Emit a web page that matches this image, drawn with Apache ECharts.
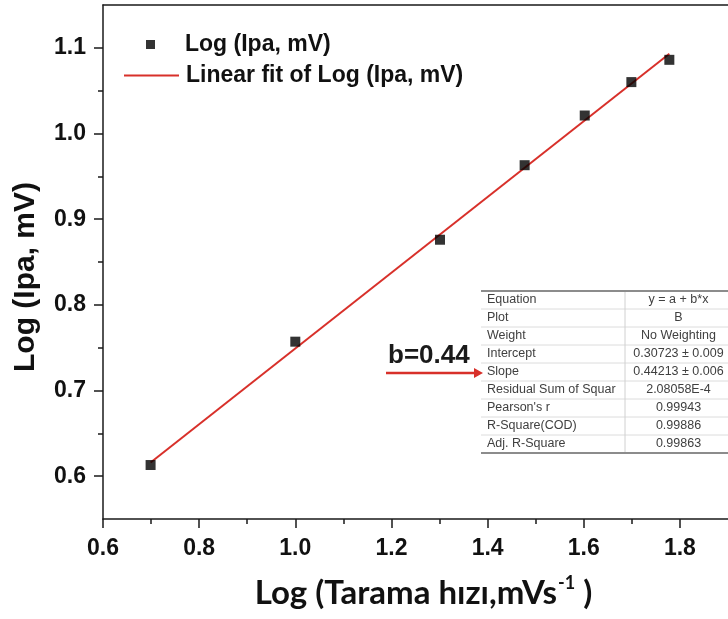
<!DOCTYPE html>
<html>
<head>
<meta charset="utf-8">
<script src="https://cdn.jsdelivr.net/npm/echarts@6/dist/echarts.min.js"></script>
<style>html,body{margin:0;padding:0;background:#fff;}#c{width:728px;height:619px;}</style>
</head>
<body>
<div id="c"></div>
<script>
// ---- data ----
const xValues = [0.699, 1.000, 1.301, 1.477, 1.602, 1.699, 1.778];
const yValues = [0.613, 0.757, 0.876, 0.963, 1.021, 1.060, 1.086];
const fitX = [0.699, 1.778];
const fitY = [0.616, 1.093];
const xMajorTicks = [0.6, 0.8, 1.0, 1.2, 1.4, 1.6, 1.8];
const xMinorTicks = [0.7, 0.9, 1.1, 1.3, 1.5, 1.7];
const yMajorTicks = [0.6, 0.7, 0.8, 0.9, 1.0, 1.1];
const yMinorTicks = [0.65, 0.75, 0.85, 0.95, 1.05];
const scatterName = 'Log (Ipa, mV)';
const fitName = 'Linear fit of Log (Ipa, mV)';
const tableLabels = ['Equation', 'Plot', 'Weight', 'Intercept', 'Slope', 'Residual Sum of Squar', "Pearson's r", 'R-Square(COD)', 'Adj. R-Square'];
const tableValues = ['y = a + b*x', 'B', 'No Weighting', '0.30723 \u00b1 0.009', '0.44213 \u00b1 0.006', '2.08058E-4', '0.99943', '0.99886', '0.99863'];
const annotationText = 'b=0.44';

// ---- chart ----
const FONT = '"Liberation Sans", Arial, sans-serif';
const AX = '#1a1a1a';
const RED = '#d8302a';
const chart = echarts.init(document.getElementById('c'), null, {renderer: 'canvas'});

const valAxisBase = {
  type: 'value',
  splitLine: {show: false}
};

// table graphic
const tLeft = 481, tRight = 728, tTop = 291, tBottom = 453, tDiv = 625;
const rowH = (tBottom - tTop) / tableLabels.length;
const tableChildren = [];
tableChildren.push({type: 'rect', shape: {x: tLeft, y: tTop, width: tRight - tLeft, height: tBottom - tTop}, style: {fill: '#fff'}});
for (let i = 1; i < tableLabels.length; i++) {
  tableChildren.push({type: 'line', shape: {x1: tLeft, y1: tTop + rowH * i, x2: tRight, y2: tTop + rowH * i}, style: {stroke: '#dcdcdc', lineWidth: 1}});
}
tableChildren.push({type: 'line', shape: {x1: tDiv, y1: tTop, x2: tDiv, y2: tBottom}, style: {stroke: '#d0d0d0', lineWidth: 1}});
tableChildren.push({type: 'line', shape: {x1: tLeft, y1: tTop, x2: tRight, y2: tTop}, style: {stroke: '#8c8c8c', lineWidth: 2}});
tableChildren.push({type: 'line', shape: {x1: tLeft, y1: tBottom, x2: tRight, y2: tBottom}, style: {stroke: '#8c8c8c', lineWidth: 2}});
tableLabels.forEach((lab, i) => {
  const cy = tTop + rowH * (i + 0.5);
  tableChildren.push({type: 'text', x: tLeft + 6, y: cy, style: {text: lab, fill: '#404040', font: '12.5px ' + FONT, textAlign: 'left', textVerticalAlign: 'middle'}});
  tableChildren.push({type: 'text', x: (tDiv + tRight) / 2 + 2, y: cy, style: {text: tableValues[i], fill: '#404040', font: '12.5px ' + FONT, textAlign: 'center', textVerticalAlign: 'middle'}});
});

const option = {
  animation: false,
  backgroundColor: '#fff',
  grid: {left: 103, right: -3, top: 5, bottom: 100, containLabel: false},
  legend: [
    {
      data: [scatterName], left: 146, top: 33, orient: 'vertical', padding: 0,
      itemWidth: 9, itemHeight: 9, icon: 'rect',
      textStyle: {fontFamily: FONT, fontSize: 23, fontWeight: 'bold', color: '#111', padding: [0, 0, 0, 25]}
    },
    {
      data: [fitName], left: 123, top: 64, orient: 'vertical', padding: 0,
      itemWidth: 55, itemHeight: 12,
      itemStyle: {opacity: 0},
      textStyle: {fontFamily: FONT, fontSize: 23, fontWeight: 'bold', color: '#111', padding: [0, 0, 0, 2]}
    }
  ],
  xAxis: [
    Object.assign({}, valAxisBase, {
      min: 0.6, max: 1.9, position: 'bottom',
      axisLine: {show: true, onZero: false, lineStyle: {color: AX, width: 1.5}},
      axisTick: {show: true, customValues: xMajorTicks, length: 9, inside: false, lineStyle: {color: AX, width: 1.5}},
      axisLabel: {customValues: xMajorTicks, formatter: v => v.toFixed(1), fontFamily: FONT, fontSize: 23, fontWeight: 'bold', color: '#111', margin: 18},
      name: '{a|Log (Tarama h\u0131z\u0131,mVs}{s|-1}{a| )}',
      nameLocation: 'middle', nameGap: 55,
      nameTextStyle: {
        rich: {
          a: {fontFamily: 'Lato, "Open Sans", sans-serif', fontSize: 33, fontWeight: 'bold', color: '#111', lineHeight: 36, verticalAlign: 'bottom'},
          s: {fontFamily: 'Lato, "Open Sans", sans-serif', fontSize: 18, fontWeight: 'bold', color: '#111', lineHeight: 36, verticalAlign: 'top', padding: [0, 0, 0, 1]}
        },
        padding: [0, 0, 0, 16]
      }
    }),
    Object.assign({}, valAxisBase, {
      min: 0.6, max: 1.9, position: 'bottom',
      axisLine: {show: false, onZero: false},
      axisTick: {show: true, customValues: xMinorTicks, length: 5, inside: false, lineStyle: {color: AX, width: 1.5}},
      axisLabel: {show: false}
    }),
    Object.assign({}, valAxisBase, {
      min: 0.6, max: 1.9, position: 'top',
      axisLine: {show: true, onZero: false, lineStyle: {color: AX, width: 1.5}},
      axisTick: {show: false},
      axisLabel: {show: false}
    })
  ],
  yAxis: [
    Object.assign({}, valAxisBase, {
      min: 0.55, max: 1.15, position: 'left',
      axisLine: {show: true, onZero: false, lineStyle: {color: AX, width: 1.5}},
      axisTick: {show: true, customValues: yMajorTicks, length: 9, inside: false, lineStyle: {color: AX, width: 1.5}},
      axisLabel: {customValues: yMajorTicks, formatter: v => v.toFixed(1), fontFamily: FONT, fontSize: 23, fontWeight: 'bold', color: '#111', margin: 17},
      name: 'Log (Ipa, mV)', nameLocation: 'middle', nameGap: 62,
      nameTextStyle: {fontFamily: FONT, fontSize: 30, fontWeight: 'bold', color: '#111', padding: [0, 30, 0, 0]}
    }),
    Object.assign({}, valAxisBase, {
      min: 0.55, max: 1.15, position: 'left', offset: 0,
      axisLine: {show: false, onZero: false},
      axisTick: {show: true, customValues: yMinorTicks, length: 5, inside: false, lineStyle: {color: AX, width: 1.5}},
      axisLabel: {show: false}
    })
  ],
  series: [
    {
      type: 'line', name: fitName, xAxisIndex: 0, yAxisIndex: 0,
      data: fitX.map((x, i) => [x, fitY[i]]),
      symbol: 'none', lineStyle: {color: RED, width: 2}, itemStyle: {color: RED}, z: 2
    },
    {
      type: 'scatter', name: scatterName, xAxisIndex: 0, yAxisIndex: 0,
      data: xValues.map((x, i) => [x, yValues[i]]),
      symbol: 'rect', symbolSize: 10, itemStyle: {color: '#000'}, z: 3
    }
  ],
  graphic: [
    {type: 'group', children: tableChildren},
    {type: 'text', x: 388, y: 356, style: {text: annotationText, fill: '#1a1a1a', font: 'bold 26px ' + FONT, textAlign: 'left', textVerticalAlign: 'middle'}},
    {type: 'line', shape: {x1: 386, y1: 373, x2: 475, y2: 373}, style: {stroke: RED, lineWidth: 2.5}},
    {type: 'polygon', shape: {points: [[474, 368], [483, 373], [474, 378]]}, style: {fill: RED}}
  ]
};
chart.setOption(option);
</script>
</body>
</html>
